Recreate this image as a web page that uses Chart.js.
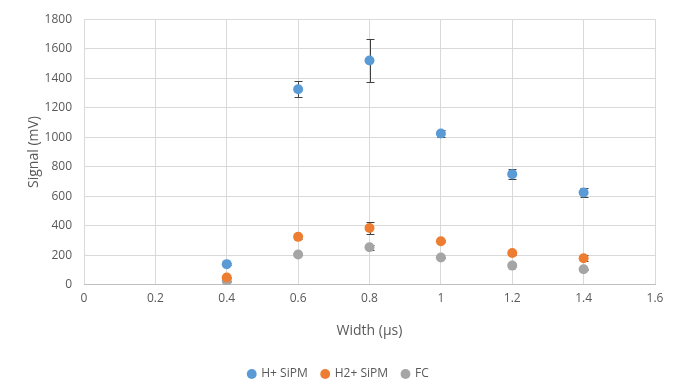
<!DOCTYPE html>
<html>
<head>
<meta charset="utf-8">
<script src="https://cdn.jsdelivr.net/npm/chart.js@4"></script>
<style>
html,body{margin:0;padding:0;background:#fff;}
#wrap{width:675px;height:392px;}
</style>
</head>
<body>
<div id="wrap"><canvas id="c" width="675" height="392"></canvas></div>
<script>
const widths=[0.4,0.6,0.8,1.0,1.2,1.4];
const hPlus=[140,1325,1520,1025,750,625];
const hPlusErr=[6,55,145,25,35,28];
const h2Plus=[50,325,385,295,215,180];
const h2PlusErr=[4,15,40,8,10,20];
const fc=[25,205,255,185,130,105];
const fcErr=[3,5,18,5,5,5];

const SERIES=[
  {label:'H+ SiPM',values:hPlus,errs:hPlusErr,color:'#5B9BD5'},
  {label:'H2+ SiPM',values:h2Plus,errs:h2PlusErr,color:'#ED7D31'},
  {label:'FC',values:fc,errs:fcErr,color:'#A5A5A5'}
];

const errorBarPlugin={
  id:'errorBars',
  beforeDatasetsDraw(chart){
    const xs=chart.scales.x, ys=chart.scales.y;
    const {ctx}=chart;
    ctx.save();
    ctx.strokeStyle='#404040';
    ctx.lineWidth=1;
    chart.data.datasets.forEach(ds=>{
      ds.data.forEach((p,i)=>{
        const e=ds.errs[i];
        const x=Math.round(xs.getPixelForValue(p.x))+0.5;
        const y1=Math.round(ys.getPixelForValue(p.y+e))+0.5;
        const y2=Math.round(ys.getPixelForValue(p.y-e))+0.5;
        ctx.beginPath();
        ctx.moveTo(x,y1);ctx.lineTo(x,y2);
        ctx.moveTo(x-4,y1);ctx.lineTo(x+4,y1);
        ctx.moveTo(x-4,y2);ctx.lineTo(x+4,y2);
        ctx.stroke();
      });
    });
    ctx.restore();
  }
};

const datasets=SERIES.map(s=>({
  label:s.label,
  data:widths.map((w,i)=>({x:w,y:s.values[i]})),
  errs:s.errs,
  backgroundColor:s.color,
  borderColor:s.color,
  pointRadius:5,
  pointHoverRadius:5,
  pointBorderWidth:0
}));

Chart.defaults.font.family='"Open Sans", "Noto Sans", sans-serif';
Chart.defaults.color='#595959';

new Chart(document.getElementById('c').getContext('2d'),{
  type:'scatter',
  data:{datasets},
  options:{
    responsive:false,
    animation:false,
    layout:{padding:{top:16,right:20,left:22,bottom:2}},
    plugins:{
      legend:{
        position:'bottom',
        labels:{usePointStyle:true,pointStyle:'circle',boxWidth:7,boxHeight:7,padding:14,font:{size:12},color:'#595959'}
      },
      tooltip:{enabled:false}
    },
    scales:{
      x:{
        min:0,max:1.6,
        ticks:{stepSize:0.2,font:{size:12},color:'#595959',padding:7,callback:v=>Math.round(v*10)/10},
        grid:{color:'#d9d9d9',drawTicks:false},
        border:{color:'#bfbfbf'},
        title:{display:true,text:'Width (µs)',font:{size:14},color:'#595959',padding:{top:9,bottom:15}}
      },
      y:{
        min:0,max:1800,
        ticks:{stepSize:200,font:{size:12},color:'#595959',padding:12,callback:v=>String(v)},
        grid:{color:'#d9d9d9',drawTicks:false},
        border:{display:false},
        title:{display:true,text:'Signal (mV)',font:{size:14},color:'#595959',padding:{bottom:2}},
        afterFit(scale){scale.width=62;}
      }
    }
  },
  plugins:[errorBarPlugin]
});
</script>
</body>
</html>
